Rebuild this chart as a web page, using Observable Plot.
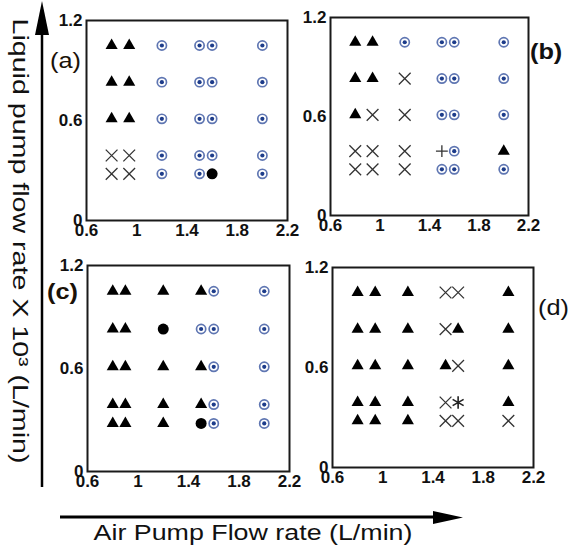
<!DOCTYPE html>
<html><head><meta charset="utf-8">
<script src="https://cdn.jsdelivr.net/npm/d3@7"></script>
<script src="https://cdn.jsdelivr.net/npm/@observablehq/plot@0.6"></script>
<style>
body{margin:0;background:#fff;}
#wrap{position:relative;width:571px;height:548px;overflow:hidden;font-family:Arial,"Liberation Sans",sans-serif;background:#fff;}
#wrap > div{position:absolute;}
#wrap > svg{position:absolute;left:0;top:0;}
</style></head><body><div id="wrap"></div>
<script>
// Liquid pump flow rate (x10^3 L/min) rows, air pump flow rate (L/min) columns
const liquidRows = [1.05, 0.83, 0.61, 0.39, 0.28];
const airColsABD = [0.8, 0.94, 1.2, 1.5, 1.6, 2.0];
const airColsC = [0.8, 0.9, 1.2, 1.5, 1.6, 2.0];
const xTicks = [0.6, 1, 1.4, 1.8, 2.2];
const yTicks = [0, 0.6, 1.2];
// Regime codes: T triangle, O ringed dot, X times, D filled dot, P plus, A asterisk
const regimeA = ["TTOOOO", "TTOOOO", "TTOOOO", "XXOOOO", "XXOODO"];
const regimeB = ["TTOOOO", "TTXOOO", "TXXOOO", "XXXPOT", "XXXOOO"];
const regimeC = ["TTTTOO", "TTDOOO", "TTTTOO", "TTTTOO", "TTTDOO"];
const regimeD = ["TTTXXT", "TTTXTT", "TTTTXT", "TTTXAT", "TTTXXX"];
const panelLabels = ["(a)", "(b)", "(c)", "(d)"];
const xTitle = "Air Pump Flow rate (L/min)";
const yTitle = "Liquid pump flow rate  X 10\u00B3 (L/min)";

const wrap = document.getElementById("wrap");
const FONT = "Arial, 'Liberation Sans', sans-serif";

function panel(grid, cols, frame) {
  const pts = grid.flatMap((row, i) => [...row].map((c, j) => ({x: cols[j], y: liquidRows[i], c})));
  const of = c => pts.filter(d => d.c === c);
  const ML = 40, MT = 14, MR = 8, MB = 30;
  const w = frame[2] - frame[0], h = frame[3] - frame[1];
  const chart = Plot.plot({
    width: w + ML + MR, height: h + MT + MB,
    marginLeft: ML, marginTop: MT, marginRight: MR, marginBottom: MB,
    style: {background: "transparent", overflow: "visible", fontFamily: FONT, fontSize: "17px", fontWeight: "bold", color: "#111"},
    x: {domain: [0.6, 2.2]},
    y: {domain: [0, 1.2]},
    marks: [
      Plot.axisX(xTicks, {tickSize: 0, tickPadding: 3, fontSize: 17, fontWeight: "bold", label: null, tickFormat: d => String(d)}),
      Plot.axisY(yTicks, {tickSize: 0, tickPadding: 4, fontSize: 17, fontWeight: "bold", label: null, tickFormat: d => String(d)}),
      Plot.frame({stroke: "#1a1a1a", strokeWidth: 2}),
      Plot.dot(of("T"), {x: "x", y: "y", symbol: "triangle", r: 4.5, fill: "#000", stroke: "none"}),
      Plot.dot(of("X"), {x: "x", y: "y", symbol: "times", r: 5.4, fill: "none", stroke: "#333", strokeWidth: 1.3}),
      Plot.dot(of("P"), {x: "x", y: "y", symbol: "plus", r: 3.9, fill: "none", stroke: "#333", strokeWidth: 1.3}),
      Plot.dot(of("A"), {x: "x", y: "y", symbol: "asterisk", r: 6, fill: "none", stroke: "#222", strokeWidth: 1.6}),
      Plot.dot(of("D"), {x: "x", y: "y", r: 5.5, fill: "#000", stroke: "none"}),
      Plot.dot(of("O"), {x: "x", y: "y", r: 4.6, fill: "white", stroke: "#5f76b2", strokeWidth: 1.7}),
      Plot.dot(of("O"), {x: "x", y: "y", r: 2.1, fill: "#1d3c8a", stroke: "none"})
    ]
  });
  const div = document.createElement("div");
  div.style.left = (frame[0] - ML) + "px";
  div.style.top = (frame[1] - MT) + "px";
  div.appendChild(chart);
  wrap.appendChild(div);
}

panel(regimeA, airColsABD, [86, 20, 287, 220]);
panel(regimeB, airColsABD, [330, 17, 528, 215]);
panel(regimeC, airColsC, [87, 265, 289, 471]);
panel(regimeD, airColsABD, [332, 267, 533, 467]);

const overlay = `
<svg width="571" height="548" xmlns="http://www.w3.org/2000/svg" style="pointer-events:none" font-family="Arial, 'Liberation Sans', sans-serif">
  <line x1="42" y1="30" x2="42" y2="487" stroke="#000" stroke-width="2.5"/>
  <polygon points="42,1 35,35 49,35" fill="#000"/>
  <text transform="translate(21,241) rotate(90) scale(1.3,1)" text-anchor="middle" dominant-baseline="central" font-size="22" fill="#111">${yTitle}</text>
  <line x1="60" y1="517" x2="438" y2="517" stroke="#000" stroke-width="3"/>
  <polygon points="463,517.5 433,511 433,524" fill="#000"/>
  <text transform="translate(253,540) scale(1.22,1)" text-anchor="middle" font-size="22" fill="#111">${xTitle}</text>
  <text transform="translate(50,61) scale(1.15,1)" dominant-baseline="central" font-size="22" fill="#1a1208">${panelLabels[0]}</text>
  <text transform="translate(530,52) scale(1.15,1)" dominant-baseline="central" font-size="22" font-weight="bold" fill="#111">${panelLabels[1]}</text>
  <text transform="translate(47,292) scale(1.15,1)" dominant-baseline="central" font-size="22" font-weight="bold" fill="#1a1208">${panelLabels[2]}</text>
  <text transform="translate(538,308) scale(1.15,1)" dominant-baseline="central" font-size="22" fill="#111">${panelLabels[3]}</text>
</svg>`;
wrap.insertAdjacentHTML("beforeend", overlay);
</script></body></html>
